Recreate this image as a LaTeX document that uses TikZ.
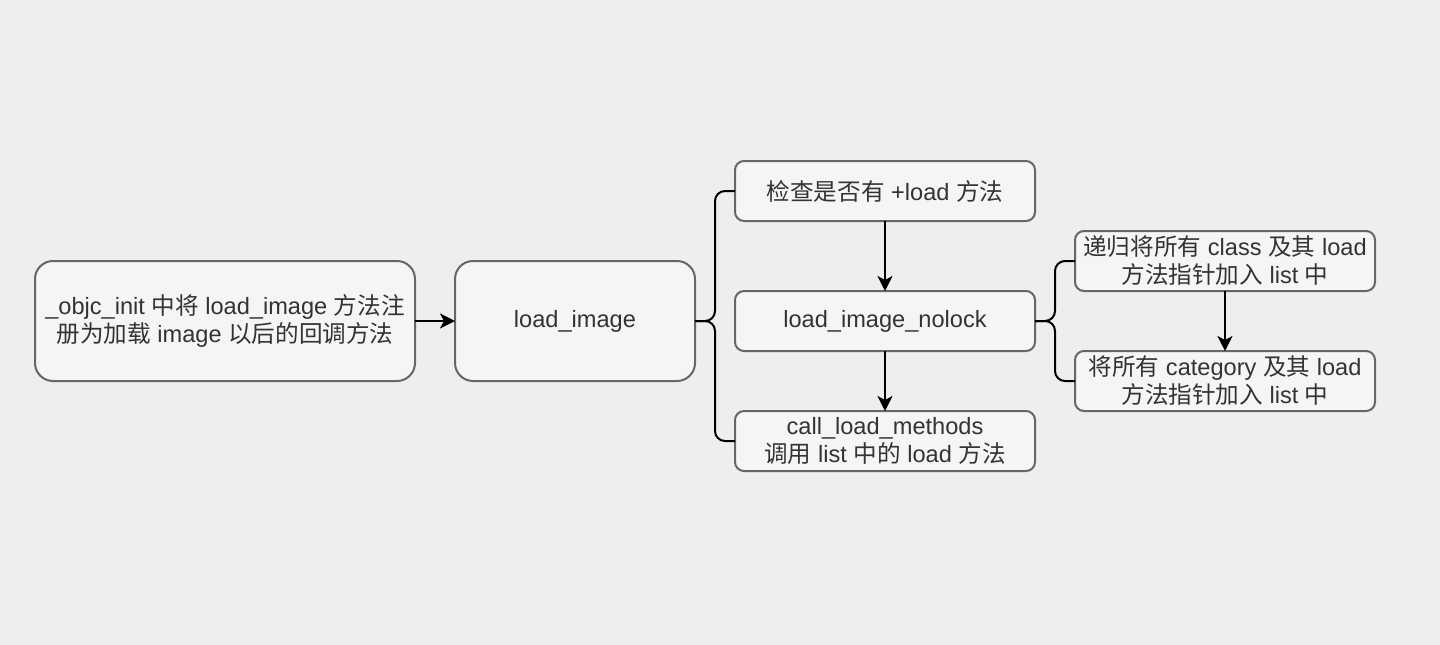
\documentclass[tikz,border=0pt]{standalone}
\usepackage{fontspec}
\setmainfont{Liberation Sans}
\newfontfamily\cjk{Noto Sans CJK SC}
\newcommand{\zh}[1]{{\cjk #1}}
\usepackage{tikz}
\usetikzlibrary{arrows.meta, positioning, calc}
\definecolor{bgray}{HTML}{EEEEEE}
\definecolor{boxfill}{HTML}{F5F5F5}
\definecolor{boxline}{HTML}{666666}
\definecolor{txt}{HTML}{333333}
\tikzset{every node/.append style={align=center}}
\tikzset{
  bigbox/.style={rectangle, draw=boxline, fill=boxfill, line width=1pt, rounded corners=9pt,
    minimum height=60pt, text=txt, inner sep=0pt, outer sep=0pt},
  box/.style={rectangle, draw=boxline, fill=boxfill, line width=1pt, rounded corners=4.5pt,
    minimum width=150pt, minimum height=30pt, text=txt, inner sep=0pt, outer sep=0pt},
  arrow/.style={-{Stealth[length=7.5pt,width=7.5pt,inset=2pt]}, line width=1pt, black},
  brace/.style={line width=1pt, black, rounded corners=5pt}
}

\begin{document}
\begin{tikzpicture}[font=\fontsize{11.8}{14}\selectfont]
  \useasboundingbox (0,0) rectangle (720pt,-322pt);
  \fill[bgray] (-2pt,2pt) rectangle (722pt,-324pt);
  \node[bigbox, minimum width=190pt] (init) at (112.5pt,-160.5pt)
    {\_objc\_init \zh{中将} load\_image \zh{方法注}\\ \zh{册为加载} image \zh{以后的回调方法}};
  \node[bigbox, minimum width=120pt, right=20pt of init] (load) {load\_image};
  \node[box, right=20pt of load] (nolock) {load\_image\_nolock};
  \node[box, above=35pt of nolock] (check) {\zh{检查是否有} +load \zh{方法}};
  \node[box, below=30pt of nolock] (call) {call\_load\_methods\\ \zh{调用} list \zh{中的} load \zh{方法}};
  \node[box, anchor=west] (cls) at ($(nolock.east)+(20pt,30pt)$)
    {\zh{递归将所有} class \zh{及其} load\\ \zh{方法指针加入} list \zh{中}};
  \node[box, below=30pt of cls] (cat) {\zh{将所有} category \zh{及其} load\\ \zh{方法指针加入} list \zh{中}};
  % braces
  \coordinate (br1) at ($(load.east)+(10pt,0)$);
  \coordinate (br2) at ($(nolock.east)+(10pt,0)$);
  \draw[brace] (check.west) -| (br1) -- (load.east);
  \draw[brace] (call.west) -| (br1) -- (load.east);
  \draw[brace] (cls.west) -| (br2) -- (nolock.east);
  \draw[brace] (cat.west) -| (br2) -- (nolock.east);
  % arrows
  \draw[arrow] (init) -- (load);
  \draw[arrow] (check) -- (nolock);
  \draw[arrow] (nolock) -- (call);
  \draw[arrow] (cls) -- (cat);
\end{tikzpicture}
\end{document}
